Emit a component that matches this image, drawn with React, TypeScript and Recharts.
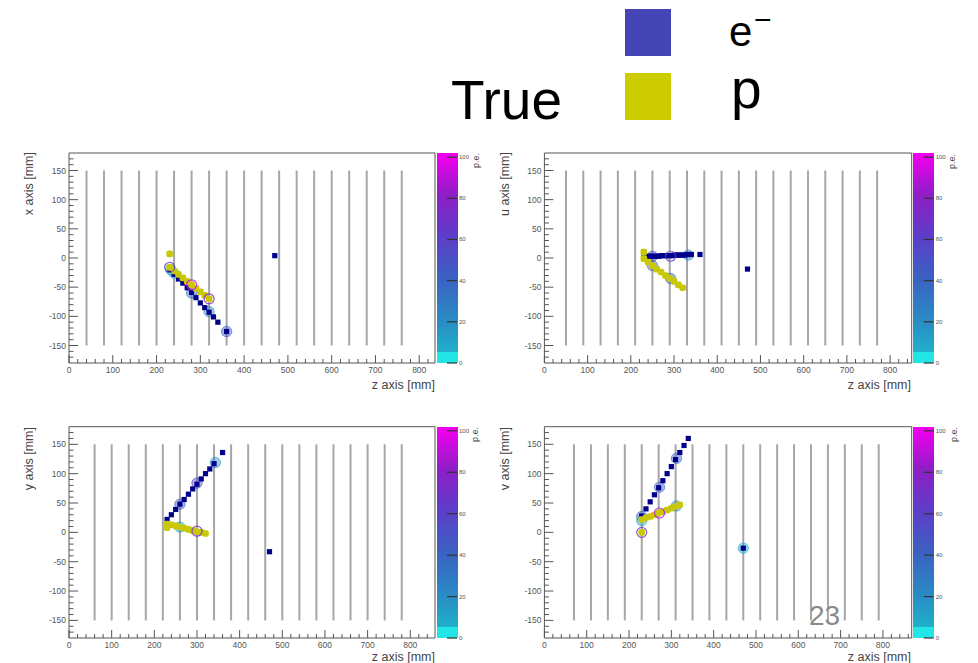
import React from 'react';
import { ScatterChart, Scatter, XAxis, YAxis, ReferenceLine, ReferenceArea } from 'recharts';

type Pt = [number, number];
type Hit = [number, number, number];

// wire plane positions (z, mm)
const xWires = [40, 80, 120, 160, 200, 240, 280, 320, 360, 400, 440, 480, 520, 560, 600, 640, 680, 720, 760];
const uWires = [50, 90, 130, 170, 210, 250, 290, 330, 370, 410, 450, 490, 530, 570, 610, 650, 690, 730, 770];
const yWires = [60, 100, 140, 180, 220, 260, 300, 340, 380, 420, 460, 500, 540, 580, 620, 660, 700, 740, 780];
const vWires = [70, 110, 150, 190, 230, 270, 310, 350, 390, 430, 470, 510, 550, 590, 630, 670, 710, 750, 790];

// tick values
const zTicks = [0, 20, 40, 60, 80, 100, 120, 140, 160, 180, 200, 220, 240, 260, 280, 300, 320, 340, 360, 380, 400, 420, 440, 460, 480, 500, 520, 540, 560, 580, 600, 620, 640, 660, 680, 700, 720, 740, 760, 780, 800, 820, 840, 860];
const posTicks = [-170, -160, -150, -140, -130, -120, -110, -100, -90, -80, -70, -60, -50, -40, -30, -20, -10, 0, 10, 20, 30, 40, 50, 60, 70, 80, 90, 100, 110, 120, 130, 140, 150, 160, 170];
const peTicks = [0, 20, 40, 60, 80, 100];

// x view
const xElectrons: Pt[] = [[230, -20], [240, -28], [250, -36], [260, -43], [270, -51], [280, -59], [290, -68], [300, -77], [310, -85], [320, -93], [330, -101], [340, -110], [360, -126], [470, 4]];
const xProtons: Pt[] = [[230, 7], [230, -16], [240, -22], [250, -28], [260, -34], [270, -40], [280, -46], [290, -52], [300, -58], [310, -64], [320, -70]];
const xHits: Hit[] = [[232, -20, 12], [240, -26, 8], [280, -60, 35], [320, -92, 25], [360, -126, 45]];
const xRings: Hit[] = [[230, -16, 60], [280, -46, 95], [320, -70, 75]];

// u view
const uElectrons: Pt[] = [[230, 2], [235, 2], [240, 3], [245, 3], [250, 3], [255, 3], [260, 3], [265, 3], [270, 4], [275, 4], [280, 4], [285, 4], [290, 4], [295, 4], [300, 5], [305, 5], [310, 5], [315, 5], [320, 5], [325, 5], [330, 6], [335, 6], [340, 6], [360, 6], [470, -19]];
const uProtons: Pt[] = [[230, 10], [230, -1], [240, -7], [250, -13], [260, -19], [270, -24], [280, -30], [290, -35], [300, -40], [310, -46], [320, -51]];
const uHits: Hit[] = [[250, -13, 40], [292, -35, 40], [333, 5, 20], [250, 3, 50]];
const uRings: Hit[] = [[292, 3, 60]];

// y view
const yElectrons: Pt[] = [[230, 22], [240, 30], [250, 39], [260, 48], [270, 56], [280, 65], [290, 74], [300, 82], [310, 91], [320, 100], [330, 108], [340, 117], [360, 136], [470, -33]];
const yProtons: Pt[] = [[230, 8], [230, 14], [240, 13], [250, 11], [260, 9], [270, 7], [280, 5], [290, 3], [300, 1], [310, 0], [320, -2]];
const yHits: Hit[] = [[260, 9, 12], [260, 48, 40], [300, 84, 55], [343, 119, 18]];
const yRings: Hit[] = [[300, 2, 70]];

// v view
const vElectrons: Pt[] = [[230, 28], [240, 40], [250, 52], [260, 64], [270, 76], [280, 88], [290, 100], [300, 112], [310, 124], [320, 136], [330, 148], [340, 160], [470, -27]];
const vProtons: Pt[] = [[230, 22], [240, 25], [250, 27], [260, 30], [270, 33], [280, 35], [290, 38], [300, 41], [310, 44], [320, 47], [230, 0]];
const vHits: Hit[] = [[230, 27, 40], [230, 20, 12], [272, 77, 40], [312, 126, 40], [312, 45, 25], [470, -27, 8]];
const vRings: Hit[] = [[272, 33, 90], [230, 0, 70]];

const peStops: [number, string][] = [[0, '#22e4e4'], [5, '#1fb4cc'], [20, '#2a8cc4'], [40, '#3a62c2'], [60, '#5c3ec8'], [80, '#8e1ec6'], [100, '#ee00ee']];

function hexToRgb(h: string) {
  return [parseInt(h.slice(1, 3), 16), parseInt(h.slice(3, 5), 16), parseInt(h.slice(5, 7), 16)];
}
function peColor(v: number) {
  for (let i = 0; i < peStops.length - 1; i++) {
    const [a, ca] = peStops[i];
    const [b, cb] = peStops[i + 1];
    if (v <= b) {
      const t = Math.max(0, Math.min(1, (v - a) / (b - a)));
      const A = hexToRgb(ca), B = hexToRgb(cb);
      const c = A.map((x, k) => Math.round(x + (B[k] - x) * t));
      return `rgb(${c[0]},${c[1]},${c[2]})`;
    }
  }
  return peStops[peStops.length - 1][1];
}

const FONT = '"Liberation Sans", Arial, sans-serif';
const NAVY = '#00008c';
const YELLOW = '#c8c808';

const XTick = (props: any) => {
  const { x, y, payload } = props;
  const v = payload.value;
  const major = v % 100 === 0;
  return (
    <g>
      <line x1={x} x2={x} y1={y} y2={y - (major ? 8 : 4)} stroke="#555" strokeWidth={1} />
      {major && (
        <text x={x} y={y + 10} textAnchor="middle" fontSize={8.5} fill="#555" fontFamily={FONT}>{v}</text>
      )}
    </g>
  );
};

const YTick = (props: any) => {
  const { x, y, payload } = props;
  const v = payload.value;
  const major = v % 50 === 0;
  return (
    <g>
      <line x1={x} x2={x + (major ? 9 : 4.5)} y1={y} y2={y} stroke="#555" strokeWidth={1} />
      {major && (
        <text x={x - 3} y={y + 3} textAnchor="end" fontSize={8.5} fill="#555" fontFamily={FONT}>{v}</text>
      )}
    </g>
  );
};

const PeTick = (props: any) => {
  const { x, y, payload } = props;
  return (
    <g>
      <line x1={x + 12} x2={x + 22} y1={y} y2={y} stroke="#333" strokeWidth={1.2} />
      <text x={x + 24} y={y + 2} fontSize={6} fill="#555" fontFamily={FONT}>{payload.value}</text>
    </g>
  );
};

const toPts = (a: Pt[]) => a.map(([z, v]) => ({ z, v }));
const toHits = (a: Hit[]) => a.map(([z, v, pe]) => ({ z, v, pe }));

const navySquare = (p: any) => <rect x={p.cx - 2.6} y={p.cy - 2.6} width={5.2} height={5.2} fill={NAVY} />;
const yellowSquare = (p: any) => <rect x={p.cx - 3.3} y={p.cy - 3.3} width={6.6} height={6.6} rx={2} fill={YELLOW} />;
const hitCircle = (p: any) => {
  const c = peColor(p.payload.pe);
  return <circle cx={p.cx} cy={p.cy} r={5.2} fill={c} fillOpacity={0.45} stroke={c} strokeOpacity={0.6} strokeWidth={1} />;
};
const ringCircle = (p: any) => {
  const c = peColor(p.payload.pe);
  return <circle cx={p.cx} cy={p.cy} r={5} fill="none" stroke={c} strokeOpacity={0.8} strokeWidth={1.2} />;
};

interface PanelProps {
  left: number; top: number; width: number; height: number;
  margin: { top: number; right: number; bottom: number; left: number };
  zMax: number; wires: number[];
  electrons: Pt[]; protons: Pt[]; hits: Hit[]; rings: Hit[];
}

function Panel(p: PanelProps) {
  const plotRight = p.width - p.margin.right - 45;
  const plotTop = p.margin.top;
  const plotBottom = p.height - p.margin.bottom - 20;
  return (
    <div style={{ position: 'absolute', left: p.left, top: p.top, width: p.width, height: p.height }}>
      <div
        style={{
          position: 'absolute', left: plotRight + 1.5, top: plotTop, width: 21, height: plotBottom - plotTop,
          background: 'linear-gradient(to top, #22e6e6 0%, #22e6e6 5%, #1fb0cc 5%, #2a8cc4 20%, #3a62c2 40%, #5c3ec8 60%, #8e1ec6 80%, #ee00ee 98%, #ee00ee 100%)',
        }}
      />
      <ScatterChart width={p.width} height={p.height} margin={p.margin}>
        <XAxis
          type="number" dataKey="z" domain={[0, p.zMax]} allowDataOverflow
          ticks={zTicks.filter((t) => t <= p.zMax)} interval={0}
          tick={<XTick />} tickLine={false} axisLine={false} tickSize={0} tickMargin={0} height={20}
        />
        <YAxis
          yAxisId="main" type="number" dataKey="v" domain={[-180, 180]} allowDataOverflow
          ticks={posTicks} interval={0} tick={<YTick />} tickLine={false} axisLine={false}
          tickSize={0} tickMargin={0} width={40}
        />
        <YAxis
          yAxisId="pe" orientation="right" type="number" domain={[0, 102]} allowDataOverflow
          ticks={peTicks} interval={0} tick={<PeTick />} tickLine={false} axisLine={false}
          tickSize={0} tickMargin={0} width={45}
        />
        {p.wires.map((w) => (
          <ReferenceLine
            key={w} yAxisId="main"
            segment={[{ x: w, y: -150 }, { x: w, y: 150 }]}
            stroke="#a6a6a6" strokeWidth={2}
          />
        ))}
        <ReferenceArea yAxisId="main" x1={0} x2={p.zMax} y1={-180} y2={180} fill="none" stroke="#555" strokeWidth={1} />
        <Scatter yAxisId="main" data={toHits(p.hits)} shape={hitCircle} isAnimationActive={false} />
        <Scatter yAxisId="main" data={toPts(p.electrons)} shape={navySquare} isAnimationActive={false} />
        <Scatter yAxisId="main" data={toPts(p.protons)} shape={yellowSquare} isAnimationActive={false} />
        <Scatter yAxisId="main" data={toHits(p.rings)} shape={ringCircle} isAnimationActive={false} />
      </ScatterChart>
    </div>
  );
}

const yTitle = (label: string, x: number, y: number) => (
  <text transform={`translate(${x},${y}) rotate(-90)`} textAnchor="end" fontSize={12.5} fill="#444" fontFamily={FONT}>{label}</text>
);
const peTitle = (x: number, y: number) => (
  <text transform={`translate(${x},${y}) rotate(-90)`} textAnchor="end" fontSize={9} fill="#444" fontFamily={FONT}>p.e.</text>
);
const zTitle = (x: number, y: number) => (
  <text x={x} y={y} textAnchor="end" fontSize={12.5} fill="#444" fontFamily={FONT}>z axis [mm]</text>
);

export default function App() {
  const mLeftCol = { top: 13, right: 0, bottom: 7, left: 29 };
  const mRightCol = { top: 13, right: 21.3, bottom: 7, left: 24.4 };
  const mLeftColB = { top: 16.7, right: 0, bottom: 5, left: 29 };
  const mRightColB = { top: 16.7, right: 21.3, bottom: 5, left: 24.4 };
  return (
    <div style={{ position: 'absolute', left: 0, top: 0, width: 978, height: 663, background: '#fff', overflow: 'hidden' }}>
      <Panel left={0} top={140} width={480} height={250} margin={mLeftCol} zMax={836} wires={xWires}
        electrons={xElectrons} protons={xProtons} hits={xHits} rings={xRings} />
      <Panel left={480} top={140} width={498} height={250} margin={mRightCol} zMax={850} wires={uWires}
        electrons={uElectrons} protons={uProtons} hits={uHits} rings={uRings} />
      <Panel left={0} top={410} width={480} height={253} margin={mLeftColB} zMax={858} wires={yWires}
        electrons={yElectrons} protons={yProtons} hits={yHits} rings={yRings} />
      <Panel left={480} top={410} width={498} height={253} margin={mRightColB} zMax={868} wires={vWires}
        electrons={vElectrons} protons={vProtons} hits={vHits} rings={vRings} />

      <div style={{ position: 'absolute', left: 625, top: 9, width: 46, height: 47, background: '#4545b6' }} />
      <div style={{ position: 'absolute', left: 625, top: 73, width: 46, height: 47, background: '#cccc00' }} />

      <svg width={978} height={663} style={{ position: 'absolute', left: 0, top: 0, pointerEvents: 'none' }}>
        <text x={451} y={119} fontSize={55} fill="#000" fontFamily={FONT}>True</text>
        <text x={729} y={46} fontSize={42} fill="#000" fontFamily={FONT}>e</text>
        <text x={754} y={30} fontSize={30} fill="#000" fontFamily={FONT}>−</text>
        <text x={731} y={108} fontSize={55} fill="#000" fontFamily={FONT}>p</text>
        <text x={809} y={625} fontSize={28} fill="#8a8a8a" fontFamily={FONT}>23</text>

        {yTitle('x axis [mm]', 33, 152)}
        {yTitle('u axis [mm]', 509, 152)}
        {yTitle('y axis [mm]', 33, 427)}
        {yTitle('v axis [mm]', 509, 427)}
        {peTitle(479, 153)}
        {peTitle(955, 154)}
        {peTitle(478, 427)}
        {peTitle(957, 427)}
        {zTitle(435, 389)}
        {zTitle(911, 389)}
        {zTitle(435, 661)}
        {zTitle(911, 661)}
      </svg>
    </div>
  );
}
